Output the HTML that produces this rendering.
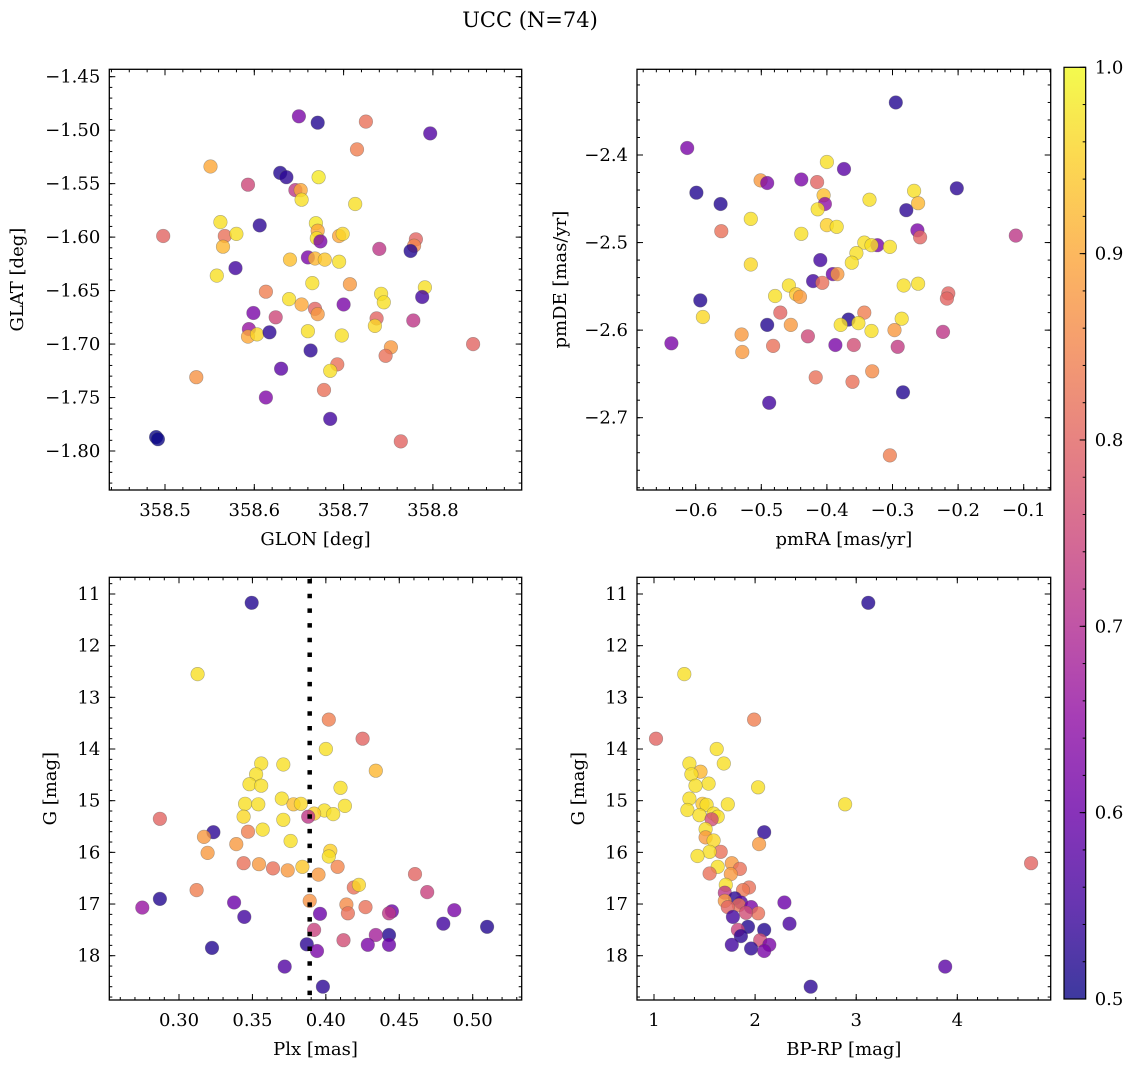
<!DOCTYPE html>
<html><head><meta charset="utf-8"><style>
html,body{margin:0;padding:0;background:#fff;}
svg{display:block;font-family:"DejaVu Serif","Liberation Serif",serif;}
</style></head><body>
<svg id="fig" width="1136" height="1067" viewBox="0 0 1136 1067" xmlns="http://www.w3.org/2000/svg">
<defs>
<linearGradient id="plasmaGrad" x1="0" y1="1" x2="0" y2="0">
<stop offset="0" stop-color="#0d0887"/><stop offset="0.1" stop-color="#41049d"/><stop offset="0.2" stop-color="#6a00a8"/><stop offset="0.3" stop-color="#8f0da4"/><stop offset="0.4" stop-color="#b12a90"/><stop offset="0.5" stop-color="#cc4778"/><stop offset="0.6" stop-color="#e16462"/><stop offset="0.7" stop-color="#f2844b"/><stop offset="0.8" stop-color="#fca636"/><stop offset="0.9" stop-color="#fcce25"/><stop offset="1" stop-color="#f0f921"/>
</linearGradient>
</defs>
<text x="530" y="27" font-size="21" text-anchor="middle">UCC (N=74)</text>
</svg>
<script>
// ---- Panel 1: GLON vs GLAT ----
const p1GLON=[358.650,358.671,358.725,358.797,358.715,358.551,358.629,358.636,358.672,358.593,358.646,358.652,358.653,358.713,358.562,358.606,358.669,358.671,358.670,358.674,358.498,358.567,358.580,358.565,358.695,358.699,358.740,358.781,358.779,358.775,358.660,358.640,358.668,358.679,358.695,358.579,358.558,358.665,358.707,358.613,358.742,358.791,358.788,358.745,358.639,358.653,358.700,358.668,358.671,358.599,358.624,358.737,358.735,358.778,358.594,358.593,358.603,358.617,358.660,358.698,358.845,358.663,358.753,358.747,358.693,358.685,358.535,358.630,358.678,358.613,358.685,358.764,358.490,358.492];
const p1GLAT=[-1.487,-1.493,-1.492,-1.503,-1.518,-1.534,-1.540,-1.544,-1.544,-1.551,-1.556,-1.556,-1.565,-1.569,-1.586,-1.589,-1.587,-1.594,-1.601,-1.604,-1.599,-1.599,-1.597,-1.609,-1.599,-1.597,-1.611,-1.602,-1.608,-1.613,-1.619,-1.621,-1.620,-1.621,-1.623,-1.629,-1.636,-1.643,-1.644,-1.651,-1.653,-1.647,-1.656,-1.661,-1.658,-1.663,-1.663,-1.667,-1.672,-1.671,-1.675,-1.676,-1.683,-1.678,-1.686,-1.693,-1.691,-1.689,-1.688,-1.692,-1.700,-1.706,-1.703,-1.711,-1.719,-1.725,-1.731,-1.723,-1.743,-1.750,-1.770,-1.791,-1.787,-1.789];
const p1Prob=[.62,.52,.82,.57,.84,.9,.52,.53,.98,.75,.72,.9,.97,.97,.97,.53,.98,.9,.97,.62,.8,.82,.97,.92,.9,.96,.72,.8,.85,.52,.62,.93,.92,.94,.97,.55,.97,.97,.88,.84,.97,.97,.55,.97,.97,.9,.62,.8,.88,.62,.75,.8,.96,.72,.66,.9,.96,.53,.97,.97,.8,.53,.88,.82,.82,.97,.87,.58,.82,.63,.55,.8,.5,.5];
// ---- Panel 2: pmRA vs pmDE ----
const p2PMRA=[-0.295,-0.613,-0.400,-0.374,-0.501,-0.491,-0.439,-0.415,-0.599,-0.202,-0.267,-0.405,-0.335,-0.403,-0.414,-0.279,-0.261,-0.562,-0.516,-0.561,-0.400,-0.385,-0.439,-0.262,-0.258,-0.112,-0.343,-0.323,-0.332,-0.304,-0.355,-0.410,-0.362,-0.516,-0.391,-0.384,-0.421,-0.407,-0.458,-0.283,-0.261,-0.447,-0.441,-0.479,-0.215,-0.217,-0.593,-0.589,-0.471,-0.343,-0.367,-0.379,-0.352,-0.286,-0.491,-0.455,-0.332,-0.297,-0.530,-0.429,-0.223,-0.637,-0.529,-0.482,-0.387,-0.359,-0.292,-0.417,-0.361,-0.331,-0.284,-0.488,-0.304];
const p2PMDE=[-2.340,-2.392,-2.408,-2.416,-2.429,-2.432,-2.428,-2.431,-2.443,-2.438,-2.441,-2.446,-2.451,-2.456,-2.462,-2.463,-2.455,-2.456,-2.473,-2.487,-2.480,-2.482,-2.490,-2.486,-2.494,-2.492,-2.500,-2.503,-2.503,-2.505,-2.512,-2.520,-2.523,-2.525,-2.536,-2.536,-2.544,-2.546,-2.549,-2.549,-2.547,-2.559,-2.562,-2.561,-2.558,-2.564,-2.566,-2.585,-2.580,-2.580,-2.588,-2.594,-2.592,-2.587,-2.594,-2.594,-2.601,-2.600,-2.605,-2.607,-2.602,-2.615,-2.625,-2.618,-2.617,-2.617,-2.619,-2.654,-2.659,-2.647,-2.671,-2.683,-2.743];
const p2Prob=[.52,.62,.97,.58,.88,.62,.62,.8,.52,.53,.97,.93,.97,.65,.97,.53,.92,.52,.97,.82,.95,.97,.97,.62,.8,.72,.97,.62,.97,.97,.97,.55,.97,.96,.6,.88,.55,.82,.97,.97,.97,.94,.88,.97,.8,.8,.52,.96,.8,.84,.52,.97,.97,.97,.52,.88,.97,.88,.88,.75,.72,.62,.88,.82,.62,.76,.73,.82,.82,.86,.52,.55,.84];
// ---- Panel 3: Plx vs G ----
const p3Plx=[0.3495,0.3127,0.402,0.425,0.400,0.356,0.371,0.434,0.3525,0.348,0.356,0.410,0.370,0.345,0.354,0.378,0.383,0.413,0.399,0.405,0.392,0.388,0.344,0.287,0.371,0.357,0.347,0.3234,0.317,0.376,0.339,0.403,0.402,0.3195,0.344,0.3545,0.364,0.374,0.384,0.408,0.395,0.4607,0.419,0.4225,0.469,0.312,0.287,0.275,0.389,0.3375,0.414,0.427,0.415,0.396,0.445,0.443,0.4875,0.3445,0.480,0.5098,0.392,0.443,0.434,0.412,0.4286,0.443,0.387,0.394,0.3225,0.372,0.398];
const p3G=[11.17,12.55,13.43,13.80,14.00,14.28,14.30,14.42,14.49,14.68,14.71,14.75,14.96,15.06,15.07,15.07,15.06,15.10,15.19,15.26,15.25,15.31,15.31,15.35,15.37,15.56,15.60,15.61,15.70,15.78,15.84,15.97,16.08,16.01,16.21,16.23,16.31,16.35,16.28,16.28,16.43,16.42,16.68,16.63,16.77,16.73,16.90,17.07,16.94,16.97,17.01,17.06,17.18,17.19,17.14,17.18,17.12,17.25,17.38,17.44,17.50,17.60,17.60,17.70,17.79,17.79,17.78,17.91,17.85,18.21,18.60];
const p3Prob=[.52,.97,.84,.8,.97,.97,.97,.92,.97,.97,.97,.97,.97,.97,.97,.93,.96,.97,.97,.97,.95,.72,.96,.8,.97,.97,.84,.53,.88,.97,.88,.95,.97,.88,.82,.88,.82,.88,.94,.85,.88,.8,.82,.96,.74,.84,.52,.66,.87,.6,.86,.82,.82,.6,.6,.72,.62,.55,.55,.52,.74,.52,.68,.76,.62,.6,.53,.62,.52,.57,.53];
const plxMean=[0.389];
// ---- Panel 4: BP-RP vs G ----
const p4BPRP=[3.12,1.30,1.99,1.02,1.62,1.35,1.69,1.46,1.37,1.54,1.41,2.03,1.35,2.89,1.73,1.48,1.52,1.33,1.45,1.59,1.63,1.57,1.51,2.09,1.51,1.59,2.04,1.66,1.55,1.43,4.73,1.77,1.85,1.63,1.55,1.76,1.71,1.94,1.88,1.70,1.80,1.70,1.86,2.29,1.84,1.73,1.96,2.03,1.91,1.78,2.34,1.93,1.83,2.09,1.86,2.05,2.14,1.77,1.96,2.09,3.88,2.55];
const p4G=[11.17,12.55,13.43,13.80,14.00,14.28,14.28,14.44,14.49,14.67,14.71,14.74,14.96,15.07,15.07,15.06,15.08,15.18,15.28,15.25,15.31,15.36,15.55,15.61,15.71,15.77,15.84,15.99,15.99,16.07,16.21,16.21,16.32,16.28,16.41,16.42,16.63,16.68,16.73,16.78,16.89,16.94,16.97,16.97,17.02,17.06,17.06,17.18,17.17,17.25,17.38,17.44,17.50,17.50,17.62,17.70,17.79,17.79,17.86,17.91,18.21,18.60];
const p4Prob=[.52,.97,.84,.8,.97,.97,.97,.92,.97,.97,.97,.97,.97,.97,.97,.94,.97,.97,.97,.97,.97,.76,.97,.53,.88,.96,.88,.82,.97,.97,.8,.88,.82,.97,.82,.88,.97,.82,.83,.72,.53,.88,.57,.6,.82,.8,.62,.82,.76,.55,.56,.52,.74,.52,.53,.76,.62,.55,.53,.62,.58,.53];
// ---- Tick labels ----
const p1XTicks=[358.5,358.6,358.7,358.8];
const p1YTicks=[-1.45,-1.50,-1.55,-1.60,-1.65,-1.70,-1.75,-1.80];
const p2XTicks=[-0.6,-0.5,-0.4,-0.3,-0.2,-0.1];
const p2YTicks=[-2.4,-2.5,-2.6,-2.7];
const p3XTicks=[0.30,0.35,0.40,0.45,0.50];
const gTicks=[11,12,13,14,15,16,17,18];
const p4XTicks=[1,2,3,4];
const cbTicks=[0.5,0.6,0.7,0.8,0.9,1.0];

const NS='http://www.w3.org/2000/svg';
const svg=document.getElementById('fig');
const FS=18;
function el(tag,attrs,parent){const e=document.createElementNS(NS,tag);for(const k in attrs)e.setAttribute(k,attrs[k]);(parent||svg).appendChild(e);return e;}
function lin(v0,p0,v1,p1){const s=(p1-p0)/(v1-v0);const f=v=>p0+(v-v0)*s;f.inv=p=>v0+(p-p0)/s;return f;}
const stops=[[13,8,135],[65,4,157],[106,0,168],[143,13,164],[177,42,144],[204,71,120],[225,100,98],[242,132,75],[252,166,54],[252,206,37],[240,249,33]];
function plasma(p){let t=Math.max(0,Math.min(1,(p-0.5)/0.5))*10;const i=Math.min(9,Math.floor(t));const f=t-i;const a=stops[i],b=stops[i+1];return 'rgb('+[0,1,2].map(k=>Math.round(a[k]+(b[k]-a[k])*f)).join(',')+')';}
function fmt(v,d){return (v<0?'\u2212':'')+Math.abs(v).toFixed(d);}

function panel(name,L,R,T,B,xs,ys,xTicks,xDec,xMinor,yTicks,yDec,yMinor,xs0,ys0,pr,xTitle,yTitle,yTitleX){
  const g=el('g',{});
  
  
  const pts=el('g',{},g);
  
  
  for(let i=0;i<xs0.length;i++){
    const c=el('circle',{cx:xs(xs0[i]).toFixed(1),cy:ys(ys0[i]).toFixed(1),r:6.8,fill:plasma(pr[i]),'fill-opacity':0.8,stroke:'#555','stroke-opacity':0.45,'stroke-width':0.6},pts);
    
    
  }
  el('rect',{x:L,y:T,width:R-L,height:B-T,fill:'none',stroke:'#000','stroke-width':1.3},g);
  const tk=el('g',{stroke:'#000','stroke-width':1},g);
  let xa=xs.inv(L),xb=xs.inv(R);if(xa>xb)[xa,xb]=[xb,xa];
  for(let v=Math.ceil(xa/xMinor-1e-6)*xMinor;v<=xb;v+=xMinor){const p=xs(v);el('line',{x1:p,x2:p,y1:B,y2:B-3},tk);el('line',{x1:p,x2:p,y1:T,y2:T+3},tk);}
  let ya=ys.inv(B),yb=ys.inv(T);if(ya>yb)[ya,yb]=[yb,ya];
  for(let v=Math.ceil(ya/yMinor-1e-6)*yMinor;v<=yb;v+=yMinor){const p=ys(v);el('line',{y1:p,y2:p,x1:L,x2:L+3},tk);el('line',{y1:p,y2:p,x1:R,x2:R-3},tk);}
  xTicks.forEach(v=>{const p=xs(v);el('line',{x1:p,x2:p,y1:B,y2:B-6},tk);el('line',{x1:p,x2:p,y1:T,y2:T+6},tk);
    const t=el('text',{x:p,y:B+26,'font-size':FS,'text-anchor':'middle'},g);t.textContent=fmt(v,xDec);
    
    });
  yTicks.forEach(v=>{const p=ys(v);el('line',{y1:p,y2:p,x1:L,x2:L+6},tk);el('line',{y1:p,y2:p,x1:R,x2:R-6},tk);
    const t=el('text',{x:L-9,y:p+6,'font-size':FS,'text-anchor':'end'},g);t.textContent=fmt(v,yDec);
    
    });
  const xt=el('text',{x:(L+R)/2,y:B+55,'font-size':FS,'text-anchor':'middle'},g);xt.textContent=xTitle;
  
  
  const cy=(T+B)/2;
  const yt=el('text',{x:yTitleX,y:cy,'font-size':FS,'text-anchor':'middle',transform:'rotate(-90 '+yTitleX+' '+cy+')'},g);yt.textContent=yTitle;
  
  
  return g;
}
const x1=lin(358.5,165,358.6,254.3), y1=lin(-1.45,76.7,-1.80,451);
panel('glon-glat-panel',109.3,521.7,69.3,490,x1,y1,p1XTicks,1,0.02,p1YTicks,2,0.01,p1GLON,p1GLAT,p1Prob,'GLON [deg]','GLAT [deg]',23);
const x2=lin(-0.6,695.7,-0.1,1023.7), y2=lin(-2.4,155,-2.7,417.7);
panel('proper-motion-panel',637,1050.7,69.3,490,x2,y2,p2XTicks,1,0.02,p2YTicks,1,0.02,p2PMRA,p2PMDE,p2Prob,'pmRA [mas/yr]','pmDE [mas/yr]',566);
const x3=lin(0.30,179,0.50,472.7), yG=lin(11,594,18,955.7);
const g3=panel('plx-g-panel',109.3,521.7,577.3,1000,x3,yG,p3XTicks,2,0.01,gTicks,0,0.2,p3Plx,p3G,p3Prob,'Plx [mas]','G [mag]',56);
const ml=el('line',{x1:x3(plxMean[0]),x2:x3(plxMean[0]),y1:579,y2:1000,stroke:'#000','stroke-width':4.5,'stroke-dasharray':'4.5 10.2'},g3);


const x4=lin(1,654,4,957.3);
panel('cmd-panel',637,1050.7,577.3,1000,x4,yG,p4XTicks,0,0.2,gTicks,0,0.2,p4BPRP,p4G,p4Prob,'BP-RP [mag]','G [mag]',584);
// colorbar
const cb=el('g',{});


const cL=1064,cR=1085.7,cT=67.3,cB=999;const cs=lin(0.5,cB,1.0,cT);
el('rect',{x:cL,y:cT,width:cR-cL,height:cB-cT,fill:'url(#plasmaGrad)','fill-opacity':0.8,stroke:'none'},cb);
el('rect',{x:cL,y:cT,width:cR-cL,height:cB-cT,fill:'none',stroke:'#000','stroke-width':1.2},cb);
for(let v=0.5;v<=1.0001;v+=0.02){const p=cs(v);el('line',{x1:cR,x2:cR-3,y1:p,y2:p,stroke:'#000'},cb);}
cbTicks.forEach(v=>{const p=cs(v);el('line',{x1:cR,x2:cR-6,y1:p,y2:p,stroke:'#000'},cb);
  const t=el('text',{x:cR+9,y:p+6,'font-size':FS,},cb);t.textContent=v.toFixed(1);
  
  });
</script>
</body></html>
